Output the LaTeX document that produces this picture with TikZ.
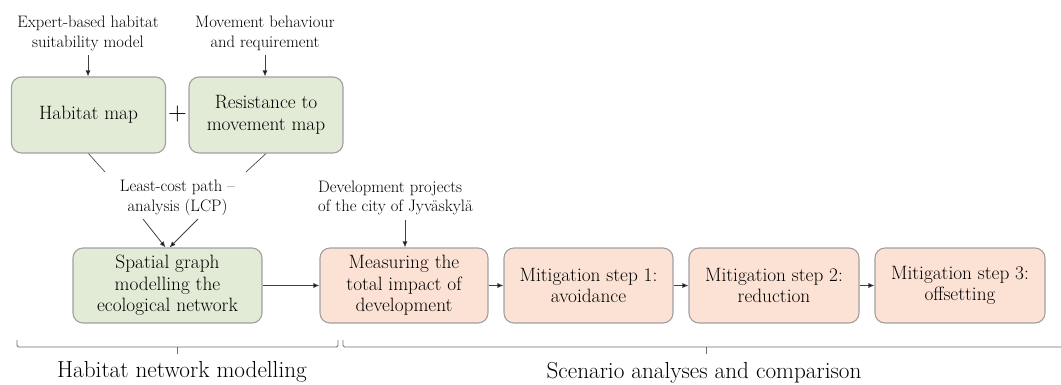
\documentclass[tikz,border=0pt]{standalone}
\usetikzlibrary{arrows.meta}
\definecolor{boxgreen}{RGB}{226,235,214}
\definecolor{boxorange}{RGB}{252,226,212}
\definecolor{boxborder}{RGB}{160,160,160}
\definecolor{bracecol}{RGB}{110,110,110}
\begin{document}
\begin{tikzpicture}[x=1pt,y=-1pt,
  box/.style={draw=boxborder, line width=1.1pt, rounded corners=10pt, align=center, inner sep=0pt, font=\fontsize{19.3}{21.5}\selectfont},
  gbox/.style={box, fill=boxgreen},
  obox/.style={box, fill=boxorange, minimum height=75pt},
  note/.style={align=center, inner sep=0pt, font=\fontsize{16.6}{19.5}\selectfont},
  arr/.style={draw=black!75, line width=0.8pt, -{Latex[length=6pt,width=5pt,fill=black]}},
  link/.style={line width=0.7pt, draw=black!70},
  bracket/.style={line width=0.9pt, draw=bracecol, rounded corners=1.5pt},
  lab/.style={font=\fontsize{23.2}{26}\selectfont, inner sep=0pt}]
\useasboundingbox (0,0) rectangle (1061,384);

% top notes
\node[note] (exp) at (88,33.5) {Expert-based habitat\\suitability model};
\node[note] (mov) at (265,33.5) {Movement behaviour\\and requirement};

% top boxes
\node[gbox, minimum width=154pt, minimum height=76pt] (hab) at (88.5,115) {Habitat map};
\node[gbox, minimum width=154pt, minimum height=76pt] (res) at (266,115) {Resistance to\\movement map};
\node[font=\fontsize{26}{26}\selectfont, inner sep=0pt] (plus) at (177.5,114) {+};

\draw[arr, shorten <=4pt] (exp.south) -- (exp.south |- hab.north);
\draw[arr, shorten <=4pt] (mov.south) -- (mov.south |- res.north);

% LCP
\node[note] (lcp) at (177.5,198) {Least-cost path --\\analysis (LCP)};
\coordinate (lcpL) at (105,172);
\coordinate (lcpR) at (246,172);
\coordinate (lcpA) at (143,219);
\coordinate (lcpB) at (198,219);
\draw[link] (hab.south) -- (lcpL);
\draw[link] (res.south) -- (lcpR);

% development note
\node[note, align=left, anchor=west] (dev) at (318,198) {Development projects\\of the city of Jyväskylä};
\coordinate (devA) at (405,220);

% bottom boxes
\node[gbox, minimum width=189pt, minimum height=75pt] (sg) at (167.5,285.5) {Spatial graph\\modelling the\\ecological network};
\node[obox, minimum width=168pt] (meas) at (404,285.5) {Measuring the\\total impact of\\development};
\node[obox, minimum width=169pt] (m1) at (588.5,285.5) {Mitigation step 1:\\avoidance};
\node[obox, minimum width=170pt] (m2) at (774,285.5) {Mitigation step 2:\\reduction};
\node[obox, minimum width=170pt] (m3) at (960,285.5) {Mitigation step 3:\\offsetting};

\draw[arr] (lcpA) -- ([xshift=-2pt]sg.north);
\draw[arr] (lcpB) -- ([xshift=2pt]sg.north);
\draw[arr] (devA) -- (devA |- meas.north);

\draw[arr] (sg.east) -- (meas.west);
\draw[arr] (meas.east) -- (m1.west);
\draw[arr] (m1.east) -- (m2.west);
\draw[arr] (m2.east) -- (m3.west);

% brackets
\draw[bracket] (17,340) -- (17,347) -- (338,347) -- (338,340);
\draw[bracket] (177,347) -- (177,354);
\draw[bracket] (343,340) -- (343,347) -- (1061,347);
\draw[bracket] (706,347) -- (706,354);

\node[lab, anchor=base] (lab1) at (182,377) {Habitat network modelling};
\node[lab, anchor=base] (lab2) at (704,378.5) {Scenario analyses and comparison};
\end{tikzpicture}
\end{document}
